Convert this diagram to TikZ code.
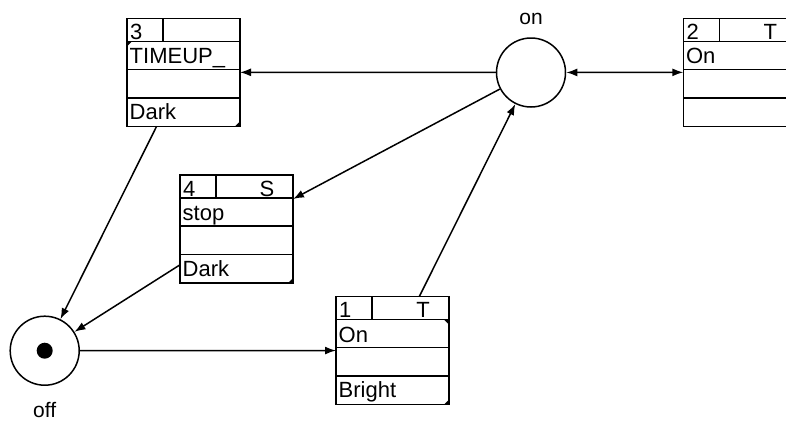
\documentclass[tikz,border=0pt]{standalone}
\usepackage{fontspec}
\setmainfont{Liberation Sans}
\usetikzlibrary{arrows.meta,positioning}
\tikzset{
  flowln/.style={-{Latex[length=11pt,width=8pt]}, line width=1.5pt},
  placec/.style={circle, draw, line width=1.5pt, minimum size=69pt, inner sep=0pt},
  transbox/.style={draw, line width=1.5pt, minimum width=113pt, minimum height=108pt,
    inner sep=0pt, outer sep=0pt, anchor=north west},
  celltxt/.style={font=\fontsize{22}{24}\selectfont, inner sep=0pt},
  lbltxt/.style={font=\fontsize{21}{24}\selectfont, inner sep=0pt},
}
% transition box: name, top-left, number, tag, guard, action
\newcommand{\transition}[6]{%
  \node[transbox] (#1) at #2 {};
  \draw[line width=1.5pt] (#1.north west) ++(0,23) coordinate (#1-r1w) -- ++(113,0) coordinate (#1-r1e);
  \draw[line width=1.5pt] (#1.north west) ++(0,51) -- ++(113,0);
  \draw[line width=1.5pt] (#1.north west) ++(0,79.5) -- ++(113,0);
  \draw[line width=1.5pt] (#1.north west) ++(36,0) -- ++(0,23);
  \path (#1.north west) ++(3,21) node[celltxt, anchor=base west] (#1-id) {#3};
  \path (#1.north west) ++(87,21) node[celltxt, anchor=base] (#1-tag) {#4};
  \path (#1.north west) ++(2.5,45.5) node[celltxt, anchor=base west] (#1-guard) {#5};
  \path (#1.north west) ++(2.5,101) node[celltxt, anchor=base west] (#1-act) {#6};
}
\newcommand{\cornermark}[3]{%
  \fill #1 -- ++(#2,0) -- ++(-#2,#3) -- cycle;
}

\begin{document}
\begin{tikzpicture}[x=1pt, y=-1pt]
  \useasboundingbox (0,0) rectangle (786,421);
  \clip (0,0) rectangle (786,421);
  % places
  \node[placec] (on) at (531,72.5) {};
  \node[above=13pt of on, anchor=base, lbltxt] (onlbl) {on};
  \node[placec] (off) at (44.7,350.7) {};
  \fill (off) circle (8);
  \node[below=32pt of off, anchor=base, lbltxt] (offlbl) {off};
  % transitions
  \transition{tr3}{(127,18.3)}{3}{}{TIMEUP\_}{Dark}
  \transition{tr4}{(180,175)}{4}{S}{stop}{Dark}
  \transition{tr1}{(336,296.5)}{1}{T}{On}{Bright}
  \transition{tr2}{(683.3,18.3)}{2}{T}{On}{}
  \cornermark{(tr3-r1w)}{5}{5}
  \cornermark{(tr3.south east)}{-5}{-5}
  \cornermark{(tr4.south east)}{-5}{-5}
  \cornermark{(tr1-r1e)}{-5}{5}
  \cornermark{(tr1.south east)}{-5}{-5}
  % arcs
  \draw[flowln] (on) -- (tr3);
  \draw[flowln, {Latex[length=11pt,width=8pt]}-{Latex[length=11pt,width=8pt]}] (tr2) -- (on);
  \draw[flowln] (on) -- (tr4);
  \draw[flowln] (tr1) -- (on);
  \draw[flowln] (tr3) -- (off);
  \draw[flowln] (tr4) -- (off);
  \draw[flowln] (off) -- (tr1);
\end{tikzpicture}
\end{document}
